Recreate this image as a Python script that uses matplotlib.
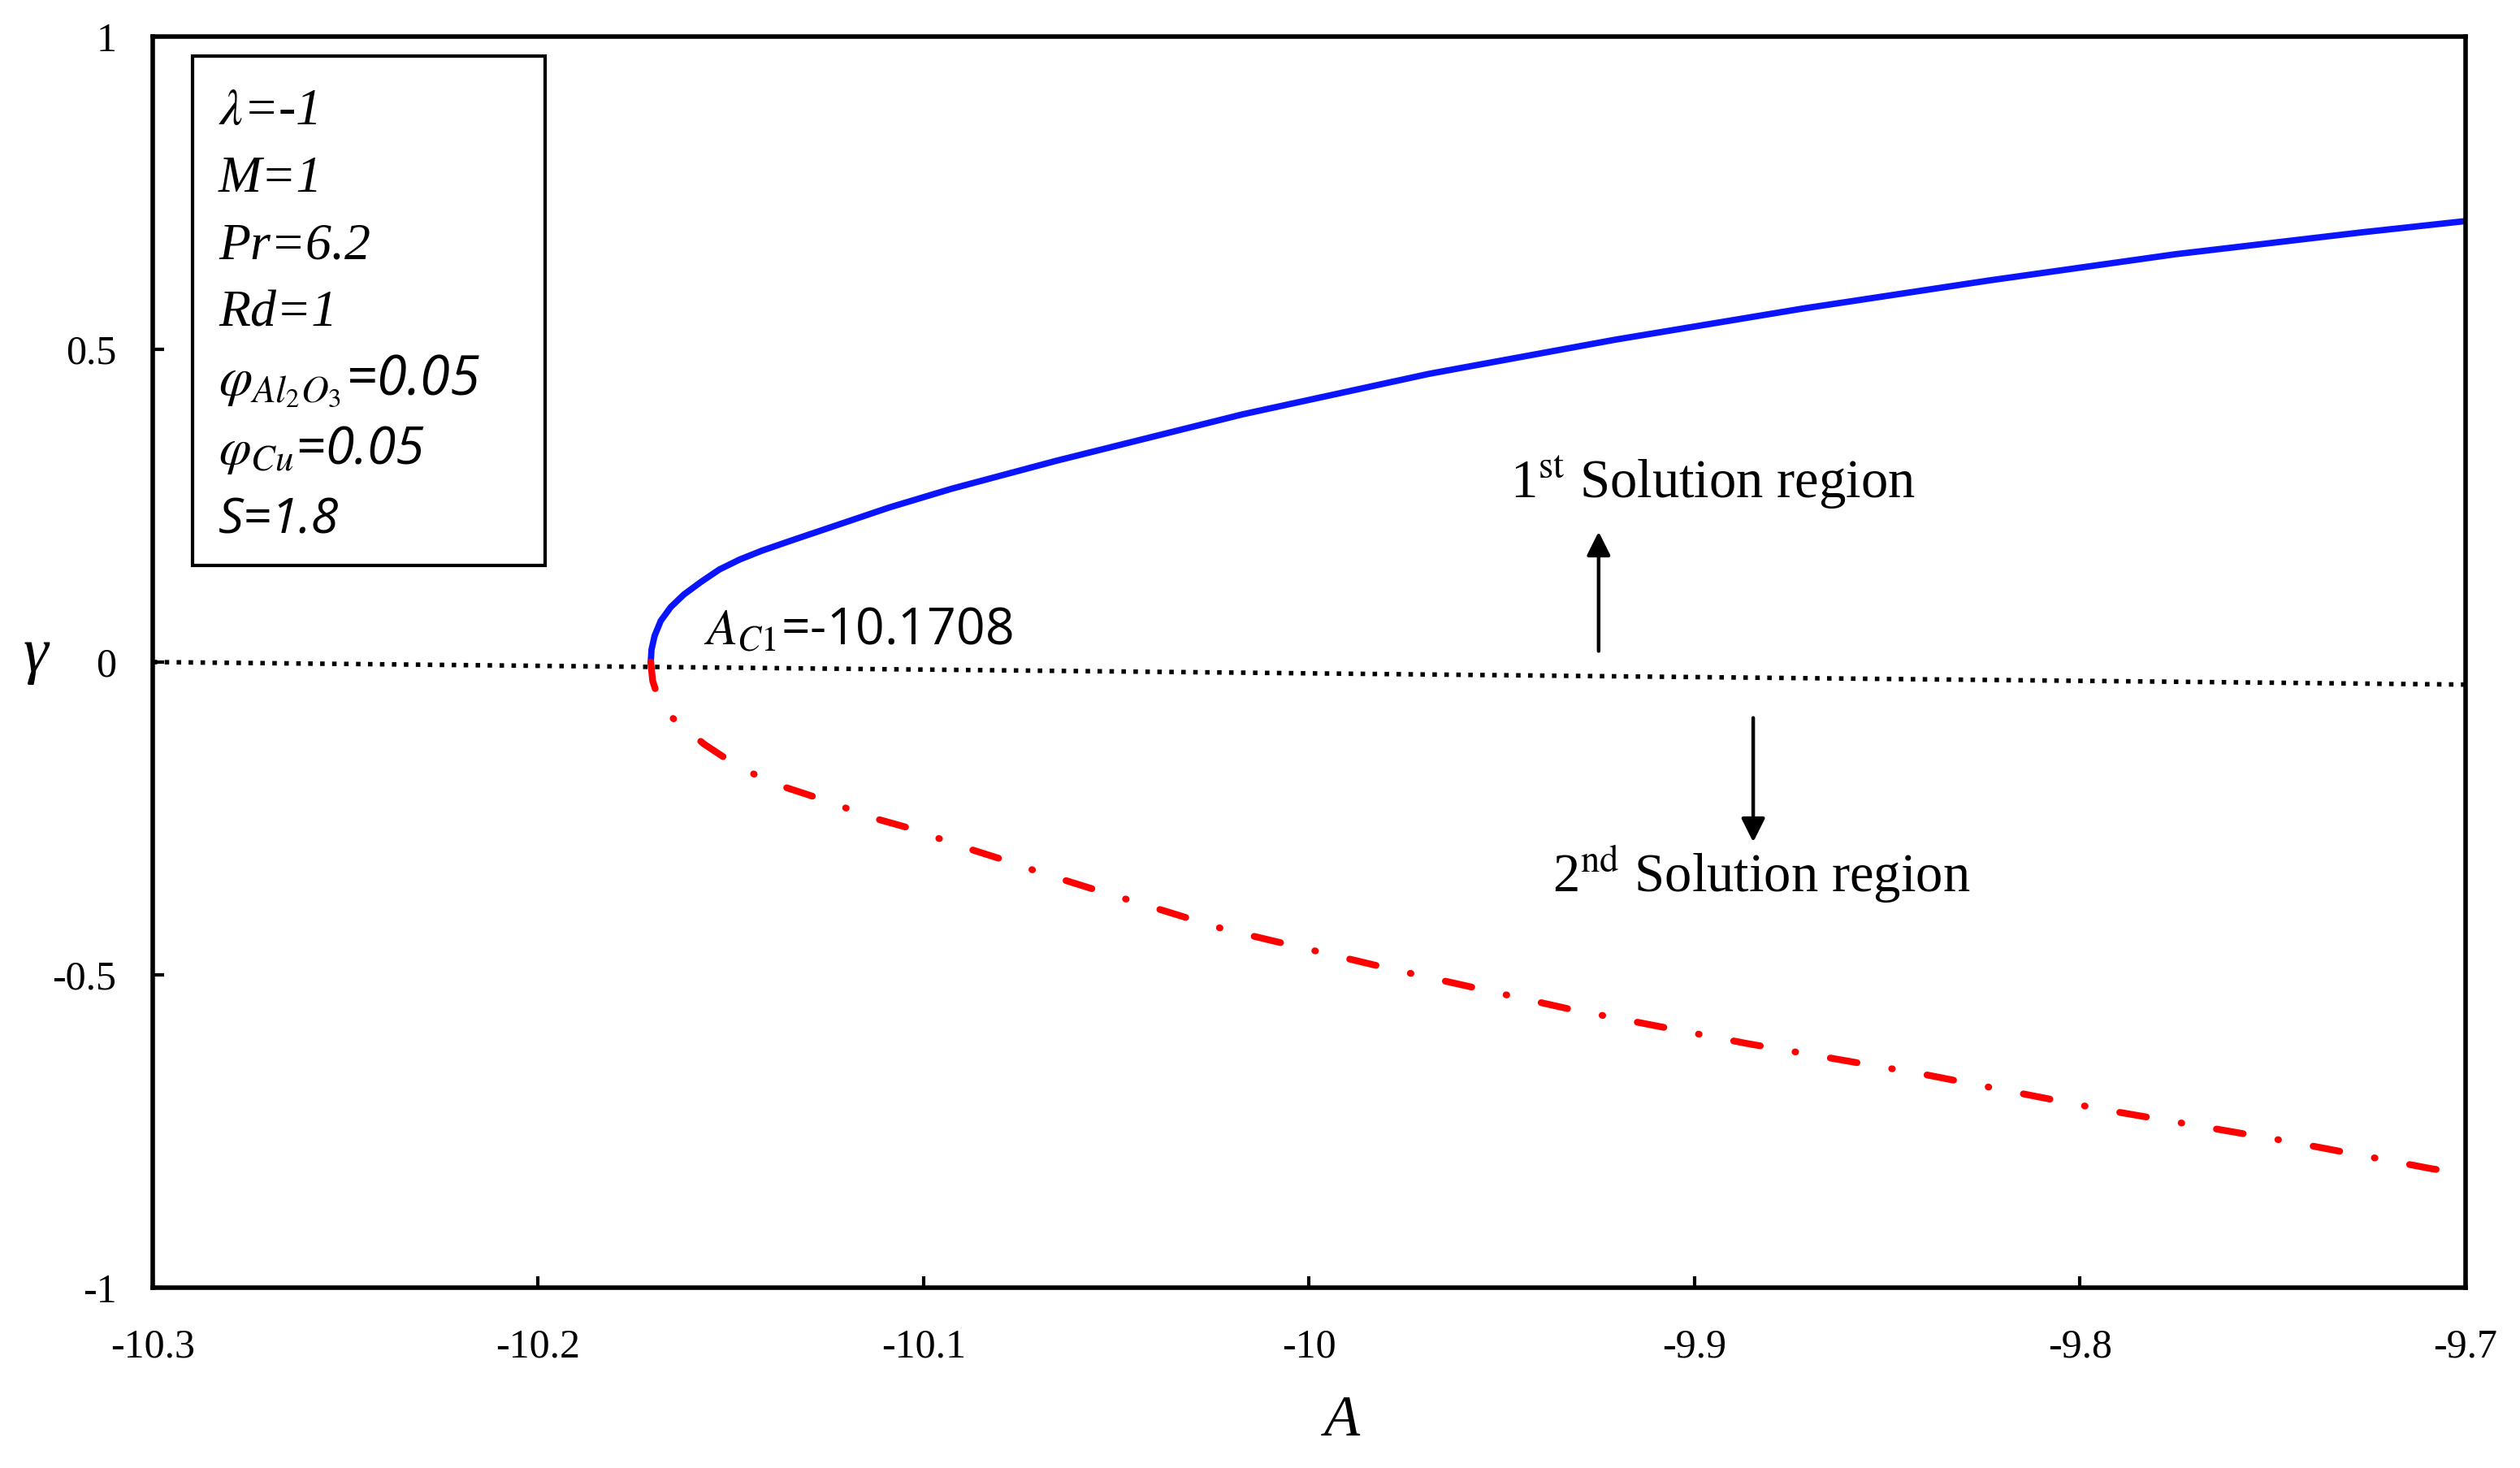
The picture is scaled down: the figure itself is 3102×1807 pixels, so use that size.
import matplotlib
matplotlib.use("Agg")
import matplotlib.pyplot as plt
from matplotlib.patches import Rectangle

plt.rcParams['font.family'] = ['Liberation Serif', 'DejaVu Serif']
plt.rcParams['mathtext.fontset'] = 'stix'

# ---- data ----
A_first = [-10.1708, -10.1706, -10.1698, -10.1682, -10.1656, -10.1622, -10.1578, -10.1530,
           -10.1477, -10.1420, -10.1340, -10.1251, -10.1090, -10.0928, -10.0657, -10.0173,
           -9.9689, -9.9205, -9.8721, -9.8237, -9.7753, -9.7269, -9.7000]
g_first = [0.0, 0.020, 0.042, 0.066, 0.088, 0.108, 0.128, 0.148,
           0.164, 0.178, 0.195, 0.2135, 0.247, 0.277, 0.3216, 0.396,
           0.4608, 0.5155, 0.565, 0.610, 0.652, 0.687, 0.705]

A_second = [-10.1708, -10.1703, -10.1690, -10.1658, -10.1570, -10.1473, -10.1360, -10.1251,
            -10.1138, -10.1025, -10.0916, -10.0800, -10.0690, -10.0578, -10.0221, -9.9785,
            -9.9326, -9.8866, -9.8406, -9.7947, -9.7463, -9.7088, -9.7000]
g_second = [0.0, -0.030, -0.055, -0.086, -0.131, -0.1705, -0.200, -0.222,
            -0.248, -0.2675, -0.292, -0.3147, -0.338, -0.3595, -0.427, -0.491,
            -0.5545, -0.6096, -0.659, -0.7146, -0.766, -0.810, -0.818]

A_ref = [-10.3, -9.7]
g_ref = [0.0, -0.036]

x_ticks = [-10.3, -10.2, -10.1, -10.0, -9.9, -9.8, -9.7]
x_tick_labels = ['-10.3', '-10.2', '-10.1', '-10', '-9.9', '-9.8', '-9.7']
y_ticks = [-1, -0.5, 0, 0.5, 1]
y_tick_labels = ['-1', '-0.5', '0', '0.5', '1']

param_lines_serif = [r'$\lambda$=-1', 'M=1', 'Pr=6.2', 'Rd=1']
param_lines_sans = [r'$\varphi_{Al_2O_3}$=0.05', r'$\varphi_{Cu}$=0.05', 'S=1.8']
critical_label = r'$A_{C1}$=-10.1708'
region1 = r'1$^{\mathrm{st}}$ Solution region'
region2 = r'2$^{\mathrm{nd}}$ Solution region'

# ---- figure ----
fig = plt.figure(figsize=(15.51, 9.035), dpi=200)
ax = fig.add_axes([0.0606, 0.1229, 0.9178, 0.8522])

ax.plot(A_ref, g_ref, color='black', linestyle=':', lw=2.0)
ax.plot(A_first, g_first, color='#0a14ff', lw=2.8, solid_capstyle='round')
ax.plot(A_second, g_second, color='#ff0000', lw=3.0,
        linestyle=(0, (4.0, 5.2, 0.1, 5.2)), dash_capstyle='round')

ax.set_xlim(-10.3, -9.7)
ax.set_ylim(-1, 1)
ax.set_xticks(x_ticks)
ax.set_xticklabels(x_tick_labels)
ax.set_yticks(y_ticks)
ax.set_yticklabels(y_tick_labels)
ax.tick_params(direction='in', length=5, width=1.5, labelsize=18, colors='black')
ax.tick_params(axis='x', pad=18)
ax.tick_params(axis='y', pad=16)
for lab in ax.get_xticklabels() + ax.get_yticklabels():
    lab.set_family('Liberation Serif')
for s in ax.spines.values():
    s.set_linewidth(2.0)

fig.text(0.5325, 0.032, 'A', fontsize=26, style='italic', family='Liberation Serif',
         ha='center', va='center')
fig.text(0.0142, 0.553, 'γ', fontsize=28, style='italic', family='Liberation Serif',
         ha='center', va='center')

# parameter box
ax.add_patch(Rectangle((0.0172, 0.577), 0.1525, 0.4074, transform=ax.transAxes,
                       fill=False, edgecolor='black', lw=1.5, zorder=5))
ys = [0.9299, 0.8760, 0.8221, 0.7682, 0.7137, 0.6584, 0.6032]
for i, t in enumerate(param_lines_serif):
    ax.text(0.0285, ys[i], t, transform=ax.transAxes, fontsize=23, style='italic',
            family='Liberation Serif', ha='left', va='baseline')
sans_sizes = [24, 23, 22]
for j, t in enumerate(param_lines_sans):
    ax.text(0.0285, ys[4 + j], t, transform=ax.transAxes, fontsize=sans_sizes[j],
            style='italic', family=['Open Sans', 'DejaVu Sans'], ha='left', va='baseline')

ax.text(0.2381, 0.5143, critical_label, transform=ax.transAxes, fontsize=22.5,
        family=['Open Sans', 'DejaVu Sans'], ha='left', va='baseline')

ax.text(0.5869, 0.6312, region1, transform=ax.transAxes, fontsize=24,
        family='Liberation Serif', ha='left', va='baseline')
ax.text(0.6052, 0.3162, region2, transform=ax.transAxes, fontsize=24,
        family='Liberation Serif', ha='left', va='baseline')

ax.annotate('', xy=(-9.9249, 0.2156), xytext=(-9.9249, 0.0104),
            arrowprops=dict(arrowstyle='-|>', lw=1.6, color='black', mutation_scale=22))
ax.annotate('', xy=(-9.8848, -0.295), xytext=(-9.8848, -0.082),
            arrowprops=dict(arrowstyle='-|>', lw=1.6, color='black', mutation_scale=22))

fig.savefig('out.png', dpi=200, facecolor='white')
